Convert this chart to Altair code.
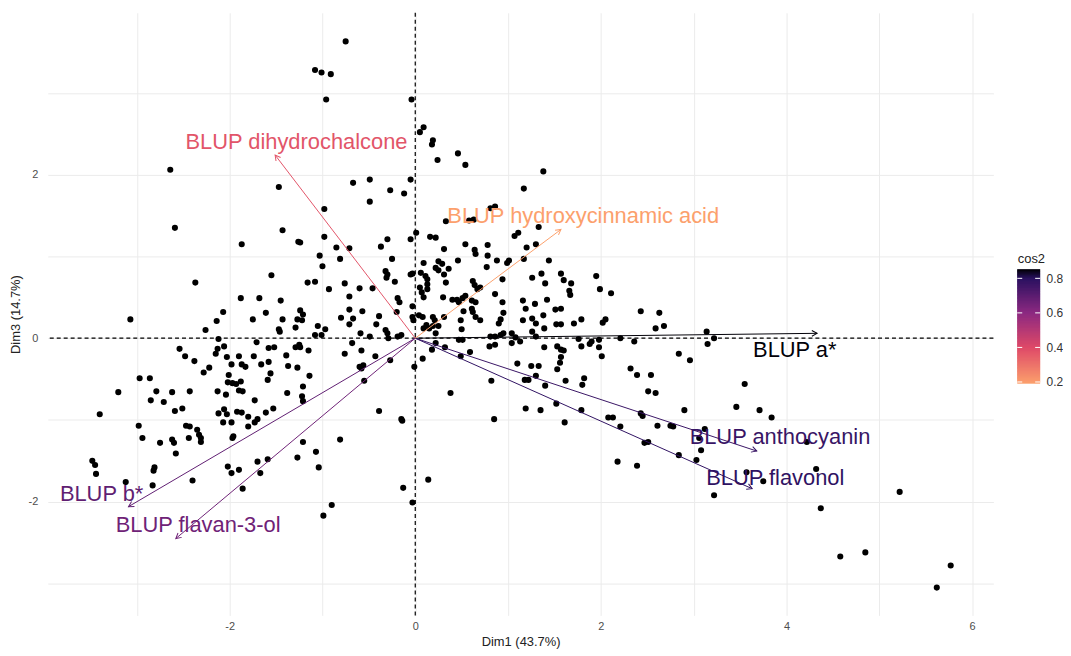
import math
import altair as alt
import pandas as pd

# ---------------- individuals (Dim1, Dim3) -------------
top_pts = [(-0.75,3.63),(-1.08,3.28),(-1.01,3.25),(-0.91,3.23),(-0.96,2.92),(-0.04,2.92),(0.05,2.52),
           (0.09,2.58),(0.18,2.37),(0.19,2.42),(0.24,2.18),(0.46,2.26),(0.54,2.12),(-0.67,1.90),(-0.49,1.94),
           (-0.49,1.67),(-0.27,1.81),(-0.12,1.77),(-0.05,1.94),(-0.98,1.58),(1.17,1.83),(0.81,1.59),(0.86,1.61),
           (1.38,2.04),(-2.64,2.06),(-1.47,1.85),(0.33,1.43),(0.58,1.44),(0.63,1.45)]

left_pts = [(-2.59,1.35),(-1.43,1.32),(-1.87,1.15),(-1.26,1.18),(-2.37,0.68),(-1.55,0.77),(-3.07,0.23),
            (-1.88,0.49),(-1.68,0.49),(-1.45,0.46),(-2.07,0.32),(-2.14,0.21),(-1.75,0.23),(-1.61,0.31),
            (-1.43,0.23),(-1.27,0.23),(-2.26,0.10),(-1.47,0.11),(-1.46,0.08),(-1.29,0.13),(-2.12,-0.01),
            (-1.71,-0.05),(-2.06,-0.10),(-2.13,-0.13),(-2.15,-0.19),(-2.54,-0.13),(-2.48,-0.22),(-2.38,-0.28),
            (-2.03,-0.23),(-1.90,-0.22),(-1.98,-0.32),(-1.87,-0.32),(-1.83,-0.35),(-1.74,-0.22),(-1.66,-0.32),
            (-1.58,-0.29),(-1.58,-0.12),(-1.52,-0.11),(-1.39,-0.21),(-1.37,-0.34),(-1.29,-0.11),(-1.25,-0.08),
            (-1.27,-0.36),(-2.22,-0.36),(-2.28,-0.42),(-2.01,-0.45),(-1.56,-0.43),(-1.59,-0.51),(-2.02,-0.54),
            (-1.97,-0.55),(-1.93,-0.56),(-1.88,-0.53),(-1.90,-0.64),(-1.86,-0.65),(-2.04,-0.69),(-2.13,-0.65),
            (-2.97,-0.49),(-2.86,-0.49),(-2.79,-0.65),(-2.62,-0.66),(-2.43,-0.65),(-3.20,-0.66),(-2.85,-0.76),
            (-2.71,-0.78),(-2.59,-0.89),(-2.51,-0.86),(-3.40,-0.93),(-1.73,-0.76),(-1.38,-0.67),(-2.12,-0.92),
            (-2.06,-0.87),(-2.03,-0.93),(-1.92,-0.90),(-1.87,-0.91),(-1.80,-0.96),(-1.70,-0.99),(-1.61,-0.91),
            (-1.53,-0.86)]

lower_left_pts = [(-2.98,-1.07),(-2.94,-1.22),(-3.48,-1.50),(-3.45,-1.55),(-3.44,-1.66),(-3.12,-1.76),
                  (-2.83,-1.80),(-2.82,-1.62),(-2.81,-1.58),(-2.75,-1.28),(-2.62,-1.24),(-2.60,-1.28),
                  (-2.58,-1.41),(-2.47,-1.07),(-2.43,-1.08),(-2.44,-1.22),(-2.35,-1.12),(-2.33,-1.18),
                  (-2.31,-1.22),(-2.31,-1.27),(-2.40,-1.74),(-2.07,-1.03),(-1.98,-1.03),(-1.97,-1.22),
                  (-1.96,-1.20),(-1.80,-1.08),(-1.73,-1.03),(-2.02,-1.57),(-1.98,-1.65),(-1.90,-1.61),
                  (-1.86,-1.84),(-1.70,-1.51),(-1.67,-1.65),(-1.59,-1.48),(-1.27,-1.46),(-1.21,-1.27),
                  (-1.07,-1.39),(-1.04,-1.58),(-0.81,-1.24),(-0.90,-2.04),(-0.99,-2.17),(-0.14,-1.01),
                  (-0.13,-1.83),(-0.03,-2.01),(0.14,-1.73),(0.85,-0.99)]

lower_right_pts = [(1.61,-1.03),(2.21,-1.08),(2.61,-1.07),(2.75,-1.07),(2.78,-1.08),(3.12,-1.11),(2.18,-1.51),
                   (2.39,-1.56),(2.47,-1.28),(2.51,-1.27),(2.84,-1.43),(3.03,-1.49),(3.08,-1.37),(3.06,-1.22),
                   (3.22,-1.92),(3.57,-1.64),(3.75,-1.75),(4.22,-1.27),(4.32,-1.60),(4.37,-2.08),(5.22,-1.88),
                   (4.58,-2.67),(4.85,-2.62),(5.77,-2.78),(5.62,-3.05)]

right_pts = [(1.33,1.36),(1.44,0.95),(1.36,0.79),(1.57,0.79),(1.60,0.71),(1.68,0.67),(1.66,0.58),(1.67,0.53),
             (1.40,0.67),(1.42,0.47),(1.95,0.76),(1.99,0.60),(2.11,0.55),(1.51,0.35),(1.57,0.36),(1.38,0.28),
             (1.52,0.17),(1.57,0.17),(1.39,0.12),(1.71,0.18),(1.79,0.23),(2.02,0.19),(2.05,0.23),(2.43,0.33),
             (2.63,0.31),(2.59,0.12),(2.68,0.15),(1.76,-0.01),(1.79,-0.10),(1.88,-0.07),(1.90,-0.04),
             (1.98,-0.02),(1.98,-0.11),(2.01,-0.22),(2.21,0.00),(2.36,-0.04),(1.39,-0.11),(1.53,-0.10),
             (1.57,-0.14),(1.60,-0.15),(1.57,-0.23),(1.56,-0.30),(1.53,-0.38),(1.33,-0.34),(1.62,-0.52),
             (1.82,-0.49),(1.80,-0.57),(1.40,-0.58),(1.52,-0.80),(1.79,-0.88),(1.35,-0.88),(2.08,-0.97),
             (2.13,-0.97),(2.32,-0.37),(2.39,-0.45),(2.54,-0.45),(2.51,-0.65),(2.59,-0.67),(2.43,-0.92),
             (2.45,-0.95),(2.84,-0.19),(2.96,-0.27),(3.14,0.08),(3.22,0.00),(3.15,-0.07),(2.90,-0.88),
             (3.46,-0.84),(3.55,-0.56),(3.71,-0.88),(3.84,-0.97)]

centre_pts = [(0.01,1.29),(-0.05,1.21),(-0.30,1.21),(-0.37,1.12),(0.16,1.24),(0.22,1.23),(0.31,1.09),(0.54,1.15),
              (0.64,1.08),(0.65,1.03),(0.78,1.14),(0.78,1.01),(1.07,1.25),(1.11,1.29),(1.20,1.11),(1.30,1.15),
              (0.88,0.95),(0.99,0.92),(1.01,0.95),(0.77,0.87),(1.17,0.97),(-1.24,1.17),(-0.98,1.24),(-0.85,1.11),
              (-0.71,1.10),(-0.81,0.97),(-1.03,1.01),(-1.00,0.88),(-0.25,0.97),(0.09,0.92),(0.25,0.94),(0.29,0.91),
              (0.22,0.86),(0.25,0.83),(0.36,0.85),(0.46,0.95),(-0.05,0.78),(-0.03,0.79),(-0.32,0.82),(-0.30,0.78),
              (-0.31,0.74),(-0.22,0.69),(0.06,0.80),(0.11,0.76),(0.13,0.72),(0.31,0.78),(0.33,0.68),(-1.16,0.68),
              (-1.08,0.69),(-0.93,0.60),(-0.76,0.67),(-0.60,0.61),(-0.46,0.61),(-0.71,0.51),(0.05,0.62),(0.07,0.56),
              (0.09,0.50),(0.13,0.66),(0.13,0.60),(0.30,0.50),(0.62,0.70),(0.64,0.65),(0.67,0.60),(0.70,0.62),
              (0.86,0.54),(0.94,0.72),(1.26,0.74),(-0.19,0.49),(-0.17,0.44),(-0.03,0.39),(0.40,0.47),(0.45,0.47),
              (0.51,0.49),(0.54,0.52),(0.47,0.44),(0.61,0.46),(0.65,0.44),(0.61,0.36),(0.62,0.32),(0.65,0.26),
              (0.70,0.22),(0.52,0.33),(0.49,0.22),(0.50,0.11),(-1.24,0.34),(-1.21,0.29),(-1.22,0.22),(-0.71,0.35),
              (-0.80,0.25),(-0.67,0.24),(-0.71,0.17),(-0.57,0.33),(-0.39,0.27),(-0.20,0.32),(-0.03,0.26),(-0.02,0.22),
              (0.04,0.28),(0.08,0.26),(0.19,0.26),(0.21,0.22),(0.19,0.15),(0.25,0.15),(0.12,0.16),(0.09,0.12),
              (0.15,0.12),(0.31,0.26),(0.22,0.06),(-1.05,0.15),(-0.97,0.11),(-1.08,0.04),(-1.01,0.04),(-0.42,0.17),
              (-0.32,0.10),(-0.30,0.06),(-0.29,0.00),(-0.49,0.02),(-0.19,0.02),(-0.15,0.04),(-0.59,0.06),(-0.68,-0.06),
              (-1.15,-0.15),(-1.24,-0.11),(-0.76,-0.19),(-0.58,-0.15),(-0.43,-0.22),(-0.27,-0.27),(-0.60,-0.35),
              (-0.56,-0.33),(-0.58,-0.37),(-0.55,-0.52),(-1.14,-0.46),(-1.21,-0.59),(-1.22,-0.71),(-0.01,-0.35),
              (0.08,-0.25),(0.18,-0.14),(0.22,-0.06),(0.32,-0.11),(0.47,-0.02),(0.51,-0.02),(0.49,-0.22),(0.59,-0.17),
              (0.81,0.02),(0.86,0.02),(0.80,-0.10),(0.86,-0.08),(0.92,0.04),(0.95,0.06),(0.90,0.18),(0.92,0.23),
              (0.95,0.31),(1.04,0.06),(1.08,0.01),(1.04,-0.06),(1.13,-0.04),(1.16,0.46),(1.19,0.36),(1.29,0.42),
              (1.26,0.24),(1.30,0.18),(1.16,0.22),(1.26,0.08),(1.30,0.02),(1.25,-0.34),(1.30,-0.46),(1.10,-0.31),
              (1.18,-0.51),(1.22,-0.51),(0.82,-0.52),(0.38,-0.67),(-0.39,-0.89),(-0.15,-0.99),(1.19,-0.86),
              (-1.21,-0.77),(0.94,0.44)]

# ---------------- variables ----------------
var_names = ["BLUP a*", "BLUP anthocyanin", "BLUP flavonol", "BLUP b*", "BLUP flavan-3-ol",
             "BLUP dihydrochalcone", "BLUP hydroxycinnamic acid"]
var_dim1 = [4.33, 3.68, 3.63, -3.09, -2.58, -1.51, 1.57]
var_dim3 = [0.06, -1.38, -1.84, -2.06, -2.45, 2.24, 1.33]
var_cos2 = [0.85, 0.77, 0.79, 0.69, 0.66, 0.37, 0.19]
label_dim1 = [4.09, 3.93, 3.88, -3.38, -2.34, -1.28, 1.81]
label_dim3 = [-0.15, -1.21, -1.71, -1.90, -2.29, 2.40, 1.49]

# colour bar: cos2 range, anchors and tick labels
COS2_MIN, COS2_MAX = 0.19, 0.852
cos2_stops = [0.19, 0.4, 0.6, 0.8, 0.852]
cos2_colors = ["#FCA06C", "#DE4968", "#8C2981", "#2A1160", "#000004"]
legend_ticks = [0.2, 0.4, 0.6, 0.8]

X_DOMAIN = [-3.96, 6.23]
Y_DOMAIN = [-3.39, 3.98]
W, H = 951, 606
# colour bar layout (pixels inside the panel height)
BAR_W, BAR_TOP, BAR_LEN, GAP = 23, 258, 115, 22

FONT = "Liberation Sans"

ind = pd.DataFrame(top_pts + left_pts + lower_left_pts + lower_right_pts + right_pts + centre_pts,
                   columns=["Dim1", "Dim3"])

kx = W / (X_DOMAIN[1] - X_DOMAIN[0])
ky = H / (Y_DOMAIN[1] - Y_DOMAIN[0])
var = pd.DataFrame({
    "name": var_names, "Dim1": var_dim1, "Dim3": var_dim3, "cos2": var_cos2,
    "lx": label_dim1, "ly": label_dim3,
})
var["x0"] = 0.0
var["y0"] = 0.0
var["angle"] = [math.degrees(math.atan2(-y * ky, x * kx)) % 360 for x, y in zip(var_dim1, var_dim3)]

xs = alt.Scale(domain=X_DOMAIN, nice=False, zero=False)
ys = alt.Scale(domain=Y_DOMAIN, nice=False, zero=False)
x_axis = alt.Axis(values=list(range(-3, 7)), labelExpr="datum.value % 2 == 0 ? '' + datum.value : ''",
                  grid=True, ticks=False, domain=False, title="Dim1 (43.7%)", labelPadding=5,
                  titlePadding=4, labelFlush=False)
y_axis = alt.Axis(values=list(range(-3, 4)), labelExpr="datum.value % 2 == 0 ? '' + datum.value : ''",
                  grid=True, ticks=False, domain=False, title="Dim3 (14.7%)", labelPadding=10,
                  titlePadding=6, labelFlush=False)

color_scale = alt.Scale(domain=cos2_stops, range=cos2_colors, interpolate="rgb")

zero_df = pd.DataFrame({"v": [0.0]})
vline = alt.Chart(zero_df).mark_rule(strokeDash=[4, 3], color="black", strokeWidth=1.2).encode(
    x=alt.X("v:Q", scale=xs, axis=x_axis))
hline = alt.Chart(zero_df).mark_rule(strokeDash=[4, 3], color="black", strokeWidth=1.2).encode(
    y=alt.Y("v:Q", scale=ys, axis=y_axis))

points = alt.Chart(ind).mark_circle(size=38, color="black", opacity=1).encode(
    x=alt.X("Dim1:Q", scale=xs, axis=x_axis),
    y=alt.Y("Dim3:Q", scale=ys, axis=y_axis))

arrows = alt.Chart(var).mark_rule(strokeWidth=1).encode(
    x=alt.X("x0:Q", scale=xs, axis=x_axis), y=alt.Y("y0:Q", scale=ys, axis=y_axis),
    x2="Dim1:Q", y2="Dim3:Q",
    color=alt.Color("cos2:Q", scale=color_scale, legend=None))

heads = alt.Chart(var).mark_point(shape="M -1 -0.55 L 0 0 L -1 0.55", filled=False, size=110,
                                  strokeWidth=1, opacity=1).encode(
    x=alt.X("Dim1:Q", scale=xs, axis=x_axis), y=alt.Y("Dim3:Q", scale=ys, axis=y_axis),
    angle=alt.Angle("angle:Q", scale=None),
    color=alt.Color("cos2:Q", scale=color_scale, legend=None))

labels = alt.Chart(var).mark_text(fontSize=22, font=FONT, align="center", baseline="middle").encode(
    x=alt.X("lx:Q", scale=xs, axis=x_axis), y=alt.Y("ly:Q", scale=ys, axis=y_axis),
    text="name:N",
    color=alt.Color("cos2:Q", scale=color_scale, legend=None))

main = alt.layer(vline, hline, points, arrows, heads, labels).properties(width=W, height=H)

# ---- colour bar drawn through the same cos2 colour scale ----
N_SLICES = 80
step = (COS2_MAX - COS2_MIN) / N_SLICES
ramp_df = pd.DataFrame({
    "lo": [COS2_MIN + i * step for i in range(N_SLICES)],
    "hi": [min(COS2_MIN + (i + 2) * step, COS2_MAX) for i in range(N_SLICES)],  # overlap: no seams
})
ramp_df["mid"] = ramp_df["lo"] + step / 2
px_per_unit = BAR_LEN / (COS2_MAX - COS2_MIN)
bar_domain = [COS2_MIN - (H - BAR_TOP - BAR_LEN) / px_per_unit, COS2_MAX + BAR_TOP / px_per_unit]
bar_scale = alt.Scale(domain=bar_domain, nice=False, zero=False)
bar_axis = alt.Axis(orient="right", values=legend_ticks, grid=False, domain=False, ticks=False,
                    labelPadding=6, labelFontSize=12, labelColor="#333333",
                    labelExpr="format(datum.value, '.1f')",
                    title="cos2", titleAngle=0, titleAlign="left", titleBaseline="bottom",
                    titleX=-BAR_W, titleY=BAR_TOP - 4, titleFontSize=13, titleColor="#222222")

bar = alt.Chart(ramp_df).mark_rect(strokeWidth=0).encode(
    y=alt.Y("lo:Q", scale=bar_scale, axis=bar_axis),
    y2="hi:Q",
    color=alt.Color("mid:Q", scale=color_scale, legend=None))

bar_ticks = alt.Chart(pd.DataFrame({"t": legend_ticks})).mark_rule(
    color="white", strokeWidth=1, strokeDash=[5, BAR_W - 10]).encode(
    y=alt.Y("t:Q", scale=bar_scale, axis=bar_axis))

legend_panel = alt.layer(bar, bar_ticks).properties(width=BAR_W, height=H)

chart = alt.hconcat(main, legend_panel, spacing=GAP).properties(
    padding={"left": 1, "top": 2, "right": 0, "bottom": 5},
    background="white",
).resolve_scale(color="shared").configure_view(stroke=None).configure_axis(
    gridColor="#EBEBEB", gridWidth=1, labelColor="#4D4D4D", titleColor="#222222",
    labelFont=FONT, titleFont=FONT, labelFontSize=11, titleFontSize=13, titleFontWeight="normal")

chart.save("out.html", embed_options={"renderer": "svg", "actions": False})
